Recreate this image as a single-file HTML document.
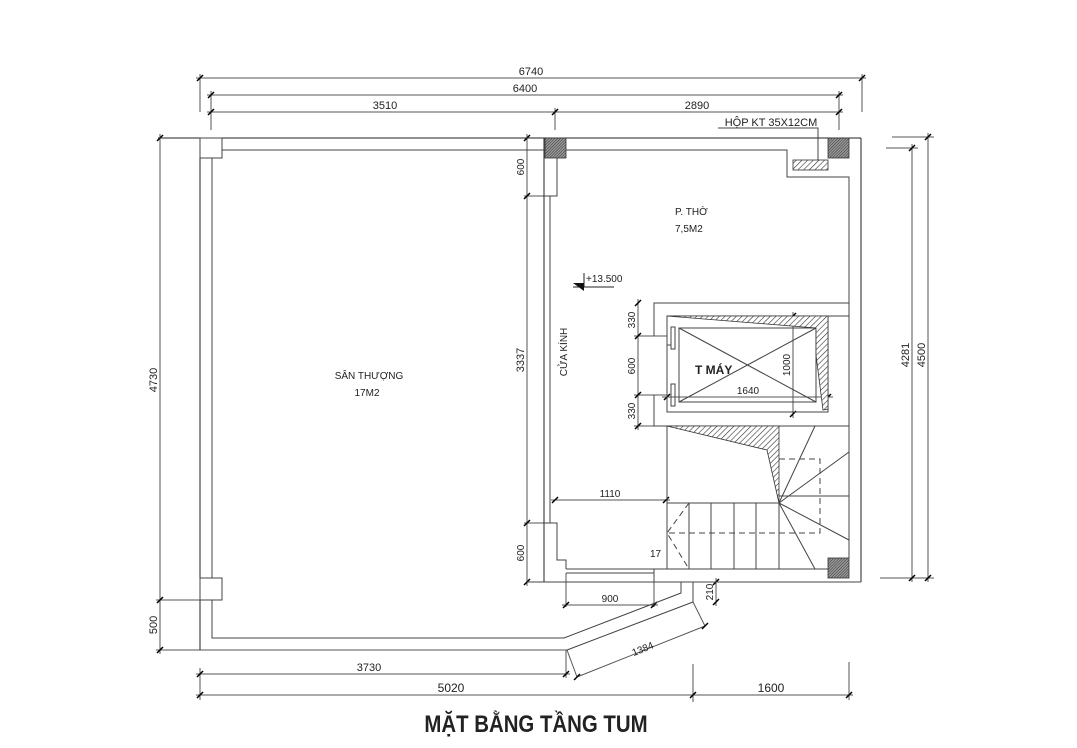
<!DOCTYPE html>
<html><head><meta charset="utf-8"><style>
html,body{margin:0;padding:0;background:#fff;}
svg{display:block;}
text{font-family:"Liberation Sans","DejaVu Sans",sans-serif;fill:#222;}
.t{font-size:11px;}
</style></head><body>
<svg width="1077" height="748" viewBox="0 0 1077 748" xmlns="http://www.w3.org/2000/svg">
<defs>
<pattern id="h1" width="4" height="4" patternUnits="userSpaceOnUse" patternTransform="rotate(45)"><rect width="4" height="4" fill="#fff"/><line x1="0" y1="0" x2="0" y2="4" stroke="#333" stroke-width="1.2"/></pattern>
<pattern id="h2" width="2" height="2" patternUnits="userSpaceOnUse" patternTransform="rotate(45)"><rect width="2" height="2" fill="#999"/><line x1="0" y1="0" x2="0" y2="2" stroke="#333" stroke-width="1"/></pattern>
</defs>
<g stroke="#555" stroke-width="1" fill="none">
<line x1="196" y1="78" x2="866" y2="78"/>
<line x1="207" y1="95" x2="843" y2="95"/>
<line x1="207" y1="112" x2="843" y2="112"/>
<line x1="200" y1="74" x2="200" y2="112"/>
<line x1="211" y1="91" x2="211" y2="130"/>
<line x1="862" y1="74" x2="862" y2="112"/>
<line x1="839" y1="91" x2="839" y2="130"/>
<line x1="555" y1="108" x2="555" y2="130"/>
<line x1="160" y1="134" x2="160" y2="654"/>
<line x1="156" y1="600" x2="222" y2="600"/>
<line x1="156" y1="650" x2="567" y2="650"/>
<line x1="928" y1="133" x2="928" y2="582"/>
<line x1="912" y1="144" x2="912" y2="582"/>
<line x1="892" y1="137" x2="934" y2="137"/>
<line x1="886" y1="148" x2="918" y2="148"/>
<line x1="880" y1="578" x2="934" y2="578"/>
<line x1="196" y1="674" x2="570" y2="674"/>
<line x1="196" y1="695" x2="853" y2="695"/>
<line x1="200" y1="668" x2="200" y2="700"/>
<line x1="566" y1="650" x2="566" y2="678"/>
<line x1="693" y1="664" x2="693" y2="702"/>
<line x1="849" y1="662" x2="849" y2="700"/>
<line x1="577" y1="677" x2="705" y2="626"/>
<line x1="567" y1="650" x2="577" y2="677"/>
<line x1="693" y1="602" x2="705" y2="626"/>
<line x1="562" y1="605" x2="658" y2="605"/>
<line x1="566" y1="573" x2="566" y2="607"/>
<line x1="654" y1="573" x2="654" y2="607"/>
<line x1="716" y1="578" x2="716" y2="606"/>
<line x1="551" y1="500" x2="670" y2="500"/>
<line x1="527" y1="134" x2="527" y2="586"/>
<line x1="524" y1="196" x2="552" y2="196"/>
<line x1="524" y1="523" x2="552" y2="523"/>
<line x1="638" y1="299" x2="638" y2="430"/>
<line x1="634" y1="336" x2="667" y2="336"/>
<line x1="634" y1="395" x2="667" y2="395"/>
<line x1="634" y1="426" x2="654" y2="426"/>
<line x1="793" y1="312" x2="793" y2="418"/>
<line x1="662" y1="397" x2="833" y2="397"/>
</g>
<g stroke="#000" stroke-width="1.5">
<path d="M197 81l6-6M208 98l6-6M208 115l6-6M552 115l6-6M836 115l6-6M836 98l6-6M859 81l6-6
M157 141l6-6M157 603l6-6M157 653l6-6M925 140l6-6M909 151l6-6M925 581l6-6M909 581l6-6
M197 677l6-6M563 677l6-6M197 698l6-6M690 698l6-6M846 698l6-6M574 680l6-6M702 629l6-6
M563 608l6-6M651 608l6-6M713 585l6-6M713 605l6-6M552 503l6-6M663 503l6-6
M524 141l6-6M524 199l6-6M524 526l6-6M524 585l6-6M635 306l6-6M635 339l6-6M635 398l6-6M635 429l6-6
M790 319l6-6M790 417l6-6M664 400l6-6M825 400l6-6"/>
</g>
<g stroke="#222" stroke-width="1" fill="none">
<line x1="158" y1="138" x2="861" y2="138"/>
<line x1="200" y1="138" x2="200" y2="650"/>
<line x1="544" y1="138" x2="544" y2="582"/>
<line x1="861" y1="138" x2="861" y2="582"/>
</g>
<g stroke="#444" stroke-width="1" fill="none">
<rect x="200" y="138" width="22" height="20" fill="#fff"/>
<rect x="200" y="578" width="22" height="22" fill="#fff"/>
<line x1="212" y1="158" x2="212" y2="578"/>
<polyline points="212,600 212,638 564,638 681,593 681,582"/>
<polyline points="567,650 693,602 693,582"/>
<line x1="222" y1="150" x2="544" y2="150"/>
<polyline points="565,150 787,150 787,177 849,177 849,558"/>
<polyline points="544,196 557,196 557,158"/>
<line x1="550" y1="196" x2="550" y2="523"/>
<polyline points="544,523 557,523 557,560 566,560 566,569"/>
<line x1="527" y1="582" x2="861" y2="582"/>
<line x1="566" y1="569" x2="654" y2="569"/>
<line x1="566" y1="573" x2="654" y2="573"/>
<polyline points="654,582 654,569 828,569"/>
<polyline points="654,336 654,303 849,303"/>
<polyline points="654,395 654,426 849,426"/>
<line x1="667" y1="316" x2="849" y2="316"/>
<rect x="667" y="316" width="161" height="96"/>
<rect x="679" y="328" width="137" height="74"/>
<line x1="679" y1="328" x2="816" y2="402"/>
<line x1="679" y1="402" x2="816" y2="328"/>
<rect x="671" y="327" width="4" height="22"/>
<rect x="671" y="384" width="4" height="22"/>
<line x1="667" y1="345" x2="671" y2="345"/>
<line x1="667" y1="426" x2="667" y2="569"/>
<line x1="667" y1="503" x2="779" y2="503"/>
<line x1="689" y1="503" x2="689" y2="569"/>
<line x1="711" y1="503" x2="711" y2="569"/>
<line x1="734" y1="503" x2="734" y2="569"/>
<line x1="756" y1="503" x2="756" y2="569"/>
<line x1="779" y1="503" x2="779" y2="569"/>
<path d="M779 503L815 426M779 503L849 452M779 503L849 540M779 503L815 569M779 496L849 496"/>
<path d="M779 459H820V533H667" stroke-dasharray="6,4"/>
<path d="M689 503L667 533L689 569" stroke-dasharray="6,4"/>
<polyline points="818,160 818,128 718,128"/>
</g>
<g stroke="#333" stroke-width="0.8">
<rect x="545" y="138" width="21" height="20" fill="url(#h2)"/>
<rect x="828" y="138" width="21" height="20" fill="url(#h2)"/>
<rect x="828" y="558" width="21" height="20" fill="url(#h2)"/>
<rect x="793" y="160" width="35" height="10" fill="url(#h1)"/>
<polygon points="667,316 828,316 828,409 823,410 816,355 816,328" fill="url(#h1)"/>
<polygon points="667,426 779,426 779,503 767,450" fill="url(#h1)"/>
</g>
<g stroke="#222" fill="none"><line x1="584" y1="273" x2="584" y2="287"/><line x1="573" y1="287" x2="614" y2="287"/></g>
<polygon points="573,283 584,283 584,291" fill="#111"/>
<text x="586" y="282" font-size="10">+13.500</text>
<g class="t">
<text x="531" y="75" text-anchor="middle">6740</text>
<text x="525" y="92" text-anchor="middle">6400</text>
<text x="385" y="109" text-anchor="middle">3510</text>
<text x="697" y="109" text-anchor="middle">2890</text>
<text x="771" y="126" text-anchor="middle" font-size="11">HỘP KT 35X12CM</text>
<text x="369" y="671" text-anchor="middle">3730</text>
<text x="451" y="692" text-anchor="middle" font-size="12">5020</text>
<text x="771" y="692" text-anchor="middle" font-size="12">1600</text>
<text x="610" y="602" text-anchor="middle" font-size="10">900</text>
<text x="610" y="497" text-anchor="middle" font-size="10">1110</text>
<text x="748" y="394" text-anchor="middle" font-size="10">1640</text>
<text x="650" y="557" font-size="10">17</text>
<text x="369" y="379" text-anchor="middle" font-size="10">SÂN THƯỢNG</text>
<text x="367" y="396" text-anchor="middle" font-size="10">17M2</text>
<text x="675" y="215" font-size="10">P. THỜ</text>
<text x="675" y="232" font-size="10">7,5M2</text>
<text transform="translate(157,380) rotate(-90)" text-anchor="middle">4730</text>
<text transform="translate(157,625) rotate(-90)" text-anchor="middle">500</text>
<text transform="translate(524,360) rotate(-90)" text-anchor="middle">3337</text>
<text transform="translate(524,167) rotate(-90)" text-anchor="middle" font-size="10">600</text>
<text transform="translate(524,553) rotate(-90)" text-anchor="middle" font-size="10">600</text>
<text transform="translate(635,320) rotate(-90)" text-anchor="middle" font-size="10">330</text>
<text transform="translate(635,366) rotate(-90)" text-anchor="middle" font-size="10">600</text>
<text transform="translate(635,411) rotate(-90)" text-anchor="middle" font-size="10">330</text>
<text transform="translate(790,365) rotate(-90)" text-anchor="middle" font-size="10">1000</text>
<text transform="translate(909,355) rotate(-90)" text-anchor="middle">4281</text>
<text transform="translate(925,355) rotate(-90)" text-anchor="middle">4500</text>
<text transform="translate(567,352) rotate(-90)" text-anchor="middle" font-size="10">CỬA KÍNH</text>
<text transform="translate(713,592) rotate(-90)" text-anchor="middle" font-size="10">210</text>
<text transform="translate(644,652) rotate(-22)" text-anchor="middle" font-size="10">1384</text>
</g>
<text x="695" y="374" font-size="12" font-weight="bold" fill="#000">T MÁY</text>
<text transform="translate(536,732) scale(0.85,1)" text-anchor="middle" font-size="24" font-weight="bold" fill="#000">MẶT BẰNG TẦNG TUM</text>
</svg>
</body></html>
